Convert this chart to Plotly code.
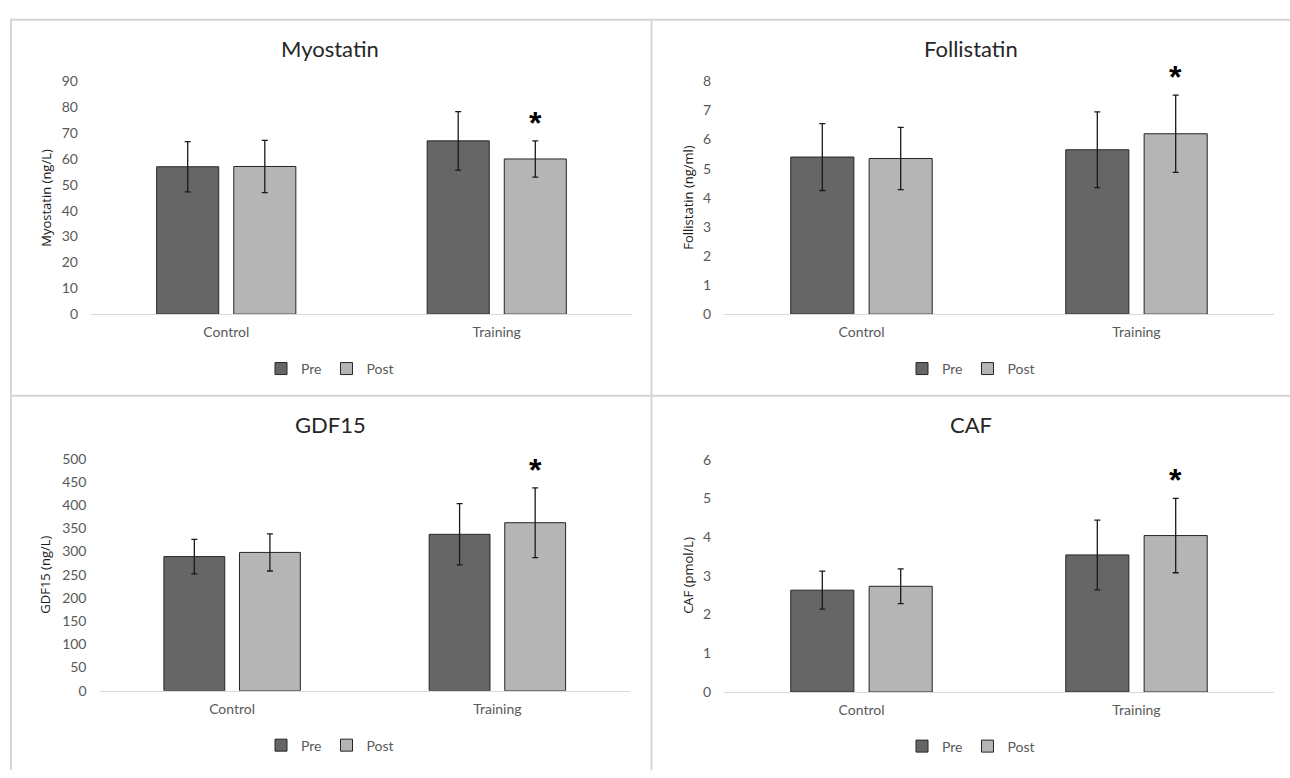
import plotly.graph_objects as go

# ---------------- data ----------------
groups = ["Control", "Training"]
series_names = ["Pre", "Post"]

panel_titles = ["Myostatin", "Follistatin", "GDF15", "CAF"]
axis_titles = ["Myostatin (ng/L)", "Follistatin (ng/ml)", "GDF15 (ng/L)", "CAF (pmol/L)"]

myostatin_pre = [57.0, 67.0]
myostatin_pre_sd = [9.7, 11.3]
myostatin_post = [57.1, 60.0]
myostatin_post_sd = [10.1, 7.0]

follistatin_pre = [5.40, 5.65]
follistatin_pre_sd = [1.15, 1.30]
follistatin_post = [5.35, 6.20]
follistatin_post_sd = [1.07, 1.33]

gdf15_pre = [289, 337]
gdf15_pre_sd = [37, 66]
gdf15_post = [298, 362]
gdf15_post_sd = [40, 75]

caf_pre = [2.63, 3.54]
caf_pre_sd = [0.49, 0.90]
caf_post = [2.73, 4.04]
caf_post_sd = [0.45, 0.96]

y_max = [90, 8, 500, 6]
y_step = [10, 1, 50, 1]

# significance markers: (group, series) per panel
significant = [("Training", "Post")] * 4

pre_values = [myostatin_pre, follistatin_pre, gdf15_pre, caf_pre]
pre_sds = [myostatin_pre_sd, follistatin_pre_sd, gdf15_pre_sd, caf_pre_sd]
post_values = [myostatin_post, follistatin_post, gdf15_post, caf_post]
post_sds = [myostatin_post_sd, follistatin_post_sd, gdf15_post_sd, caf_post_sd]

# ---------------- layout geometry ----------------
W, H = 1290, 778
# plot areas in pixels: (x0, x1, y_top, y_bottom)
areas = [
    (91, 632, 74, 312),
    (724, 1274, 74, 312),
    (99.5, 630, 459.7, 697),
    (724, 1274, 460.7, 698.3),
]
chart_centers_x = [330, 971, 330, 971]
title_y = [40, 40, 425, 425]
legend_y = [368, 368, 753, 754]
ytitle_x = [46, 688, 45, 688]

PRE_COLOR = "#666666"
POST_COLOR = "#b5b5b5"
OUTLINE = "#262626"
TEXT_GRAY = "#595959"
FONT = "Lato, Open Sans, sans-serif"

fig = go.Figure()
layout = dict(
    width=W, height=H,
    margin=dict(l=0, r=0, t=0, b=0),
    paper_bgcolor="white", plot_bgcolor="white",
    barmode="group", bargap=0.43, bargroupgap=0.195,
    showlegend=True,
    annotations=[], shapes=[],
)

for i in range(4):
    n = i + 1
    xa = "x" if n == 1 else f"x{n}"
    ya = "y" if n == 1 else f"y{n}"
    leg = "legend" if n == 1 else f"legend{n}"
    for name, vals, sds, col in [
        ("Pre", pre_values[i], pre_sds[i], PRE_COLOR),
        ("Post", post_values[i], post_sds[i], POST_COLOR),
    ]:
        fig.add_trace(go.Bar(
            x=groups, y=vals, name=name,
            marker=dict(color=col, line=dict(color=OUTLINE, width=1)),
            error_y=dict(type="data", array=sds, visible=True,
                         color="#1a1a1a", thickness=1.3, width=3),
            xaxis=xa, yaxis=ya, legend=leg,
            offsetgroup=name,
        ))

    x0, x1, yt, yb = areas[i]
    xkey = "xaxis" if n == 1 else f"xaxis{n}"
    ykey = "yaxis" if n == 1 else f"yaxis{n}"
    layout[xkey] = dict(
        domain=[x0 / W, x1 / W], anchor=ya,
        type="category", showline=True, linecolor="#d9d9d9", linewidth=1,
        ticks="", showgrid=False, zeroline=False,
        tickfont=dict(family=FONT, size=14, color=TEXT_GRAY),
        ticklabelstandoff=5, fixedrange=True,
    )
    layout[ykey] = dict(
        domain=[1 - yb / H, 1 - yt / H], anchor=xa,
        range=[0, y_max[i]], dtick=y_step[i], tick0=0,
        showline=False, showgrid=False, zeroline=False, ticks="",
        tickfont=dict(family=FONT, size=14, color=TEXT_GRAY),
        ticklabelstandoff=12, fixedrange=True,
    )
    layout[leg] = dict(
        orientation="h", x=chart_centers_x[i] / W, xanchor="center",
        y=1 - legend_y[i] / H, yanchor="middle",
        font=dict(family=FONT, size=14, color=TEXT_GRAY),
        bgcolor="rgba(0,0,0,0)", itemwidth=30, tracegroupgap=0,
    )
    # panel title
    layout["annotations"].append(dict(
        text=panel_titles[i], xref="paper", yref="paper",
        x=chart_centers_x[i] / W, y=1 - title_y[i] / H,
        xanchor="center", yanchor="middle", showarrow=False,
        font=dict(family=FONT, size=22, color="#262626"),
    ))
    # y-axis title
    layout["annotations"].append(dict(
        text=axis_titles[i], xref="paper", yref="paper",
        x=ytitle_x[i] / W, y=1 - (yt + yb) / 2 / H,
        xanchor="center", yanchor="middle", textangle=-90, showarrow=False,
        font=dict(family="Open Sans, sans-serif", size=13, color="#1a1a1a"),
    ))
    # significance asterisk above the error bar
    g, s = significant[i]
    gi = groups.index(g)
    top = (post_values[i][gi] + post_sds[i][gi]) if s == "Post" else (pre_values[i][gi] + pre_sds[i][gi])
    layout["annotations"].append(dict(
        text="<b>*</b>", xref=xa, yref=ya, x=g, y=top,
        xshift=38.5 if s == "Post" else -38.5, yshift=-2,
        xanchor="center", yanchor="bottom", showarrow=False,
        font=dict(family="Liberation Sans, Arial, sans-serif", size=32, color="#000000"),
    ))

# panel frame lines (light gray)
line_style = dict(color="#d6d6d6", width=2)
layout["shapes"] += [
    dict(type="line", xref="paper", yref="paper", x0=10 / W, x1=1, y0=1 - 11 / H, y1=1 - 11 / H, line=line_style),
    dict(type="line", xref="paper", yref="paper", x0=11 / W, x1=11 / W, y0=0, y1=1 - 11 / H, line=line_style),
    dict(type="line", xref="paper", yref="paper", x0=10 / W, x1=1, y0=1 - 395.5 / H, y1=1 - 395.5 / H, line=line_style),
    dict(type="line", xref="paper", yref="paper", x0=651.5 / W, x1=651.5 / W, y0=0, y1=1 - 11 / H, line=line_style),
]

fig.update_layout(**layout)
fig.write_html(
    "out.html",
    config={"displayModeBar": False},
    post_script="document.body.style.margin='0px';document.body.style.overflow='hidden';",
)
